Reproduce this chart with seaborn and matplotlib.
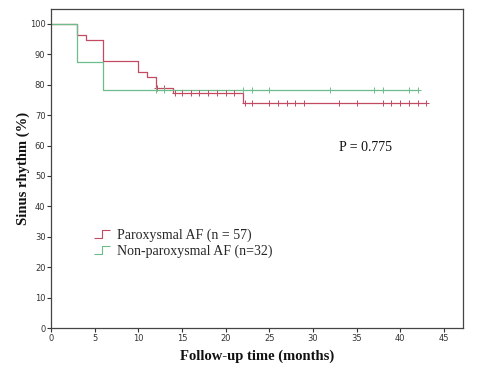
import numpy as np
import pandas as pd
import matplotlib
matplotlib.use("Agg")
import matplotlib.pyplot as plt
from matplotlib.path import Path
from matplotlib.lines import Line2D
import seaborn as sns

sns.set_theme(style="white")
plt.rcParams['font.family'] = ['DejaVu Sans']

# ---- data ----
parox_times = [0, 3, 4, 6, 10, 11, 12, 14, 22, 43]
parox_surv = [100, 96.5, 94.7, 87.7, 84.2, 82.5, 78.9, 77.2, 74.0, 74.0]
parox_censor = [12.2, 13.0, 14.2, 15.0, 16.0, 17.0, 18.0, 19.0, 20.0, 21.0,
                22.2, 23.0, 25.0, 26.0, 27.0, 28.0, 29.0, 33.0, 35.0,
                38.0, 39.0, 40.0, 41.0, 42.0, 43.0]

nonparox_times = [0, 3, 6, 42]
nonparox_surv = [100, 87.5, 78.1, 78.1]
nonparox_censor = [12.0, 13.0, 22.0, 23.0, 25.0, 32.0, 37.0, 38.0, 41.0, 42.0]

labels = ["Paroxysmal AF (n = 57)", "Non-paroxysmal AF (n=32)"]
colors = ["#c24a62", "#6cbd8b"]
x_ticks = list(range(0, 50, 5))
y_ticks = list(range(0, 110, 10))
p_text = "P = 0.775"

def step_value(times, surv, t):
    idx = np.searchsorted(times, t, side="right") - 1
    return surv[idx]

curves = pd.concat([
    pd.DataFrame({"t": parox_times, "s": parox_surv, "g": labels[0]}),
    pd.DataFrame({"t": nonparox_times, "s": nonparox_surv, "g": labels[1]}),
])
cens = pd.concat([
    pd.DataFrame({"t": parox_censor,
                  "s": [step_value(parox_times, parox_surv, t) for t in parox_censor],
                  "g": labels[0]}),
    pd.DataFrame({"t": nonparox_censor,
                  "s": [step_value(nonparox_times, nonparox_surv, t) for t in nonparox_censor],
                  "g": labels[1]}),
])

fig = plt.figure(figsize=(4.88, 3.79), dpi=100)
ax = fig.add_axes([51/488, 1 - 328/379, (463 - 51)/488, (328 - 9)/379])

pal = dict(zip(labels, colors))
sns.lineplot(data=curves, x="t", y="s", hue="g", palette=pal, drawstyle="steps-post",
             linewidth=0.9, legend=False, ax=ax, estimator=None, sort=False)
for g in labels:
    sub = cens[cens.g == g]
    ax.scatter(sub.t, sub.s, marker="+", s=22, linewidths=0.7, color=pal[g], zorder=3)

ax.set_xlim(0, 47.2)
ax.set_ylim(0, 104.9)
ax.set_xticks(x_ticks)
ax.set_yticks(y_ticks)
ax.tick_params(axis="both", which="both", direction="out", length=3, width=0.8,
               labelsize=6, colors="#333333", pad=1, bottom=True, left=True)
for sp in ax.spines.values():
    sp.set_visible(True)
    sp.set_color("#444444")
    sp.set_linewidth(0.9)

serif = ["Liberation Serif", "DejaVu Serif"]
ax.set_xlabel("Follow-up time (months)", family=serif, fontweight="bold", fontsize=10.5,
              color="#111111", labelpad=5)
ax.set_ylabel("Sinus rhythm (%)", family=serif, fontweight="bold", fontsize=10.5,
              color="#111111", labelpad=0)

ax.text(33.0, 59.2, p_text, family=serif, fontsize=10, color="#111111", va="center", ha="left")

step_path = Path([(-1, -0.5), (0, -0.5), (0, 0.5), (1, 0.5)],
                 [Path.MOVETO, Path.LINETO, Path.LINETO, Path.LINETO])
handles = [Line2D([], [], marker=step_path, linestyle="none", markersize=11,
                  markerfacecolor="none", markeredgecolor=c, markeredgewidth=0.8)
           for c in colors]
leg = ax.legend(handles, labels, loc="upper left", bbox_to_anchor=(0.09, 0.33),
                frameon=False, prop={"family": serif, "size": 10}, handlelength=1.2,
                handletextpad=0.5, labelspacing=0.2, borderaxespad=0)

fig.savefig("out.png", dpi=100)
